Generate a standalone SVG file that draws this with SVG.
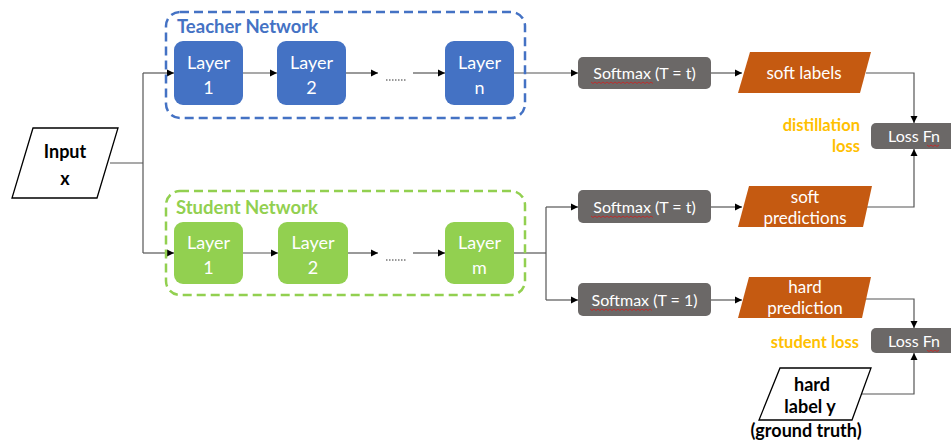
<svg xmlns="http://www.w3.org/2000/svg" width="951" height="442" viewBox="0 0 951 442">
<defs>
<marker id="ah" markerWidth="8" markerHeight="8" refX="7" refY="4" orient="auto" markerUnits="userSpaceOnUse">
<path d="M0,0.5 L7,4 L0,7.5 z" fill="#000"/>
</marker>
<style>
.t{font-family:Lato,"Open Sans","Liberation Sans",sans-serif}
.lay{font-size:18px;fill:#fff;text-anchor:middle}
.sm{font-size:16px;fill:#fff;text-anchor:middle}
.lbl{font-size:17px;fill:#fff;text-anchor:middle}
.blk{font-size:18px;font-weight:bold;fill:#000;text-anchor:middle}
.yl{font-size:16.5px;font-weight:bold;fill:#FFC000;text-anchor:end}
.conn{fill:none;stroke:#555;stroke-width:1.2}
.arr{marker-end:url(#ah)}
.blue{fill:#4472C4}
.green{fill:#92D050}
.gray{fill:#6B6867}
.orange{fill:#C55A11}
.sq{fill:none;stroke:#d02020;stroke-width:0.8}
</style>
</defs>

<g id="connectors">
<path class="conn" d="M110,163 H143"/>
<path class="conn" d="M143,73 V253"/>
<path class="conn arr" d="M143,73 H174"/>
<path class="conn arr" d="M143,253 H174"/>
<path class="conn arr" d="M243,73 H277"/>
<path class="conn arr" d="M346,73 H378"/>
<path class="conn arr" d="M413,73 H445"/>
<path class="conn arr" d="M514,73 H578"/>
<path class="conn arr" d="M243,253 H278"/>
<path class="conn arr" d="M348,253 H378"/>
<path class="conn arr" d="M413,253 H445"/>
<path class="conn" d="M514,253 H546"/>
<path class="conn" d="M546,207 V300"/>
<path class="conn arr" d="M546,207 H578"/>
<path class="conn arr" d="M546,300 H578"/>
<path class="conn arr" d="M711,73 H742"/>
<path class="conn arr" d="M711,207 H742"/>
<path class="conn arr" d="M711,300 H742"/>
<path class="conn arr" d="M866,73 H914 V123"/>
<path class="conn arr" d="M866,207 H914 V149"/>
<path class="conn arr" d="M864,299 H914 V328"/>
<path class="conn arr" d="M862,394 H914 V353"/>
<path d="M386,80 H407" stroke="#333" stroke-width="1" stroke-dasharray="1.5,1.5" fill="none"/>
<path d="M386,260 H407" stroke="#333" stroke-width="1" stroke-dasharray="1.5,1.5" fill="none"/>
</g>

<g id="input">
<polygon points="33,128 118,128 97,198 12,198" fill="#fff" stroke="#000" stroke-width="1.3"/>
<text class="t blk" x="65" y="158">Input</text>
<text class="t blk" x="65" y="185">x</text>
</g>

<g id="teacher-network">
<rect x="166" y="12" width="359" height="106" rx="14" fill="none" stroke="#4472C4" stroke-width="2.5" stroke-dasharray="9,5"/>
<text class="t" x="177" y="33" font-size="18.5" font-weight="bold" fill="#4472C4">Teacher Network</text>
</g>
<g id="t-layer1"><rect class="blue" x="174" y="41" width="69" height="64" rx="9"/><text class="t lay" x="208.5" y="69">Layer</text><text class="t lay" x="208.5" y="94">1</text></g>
<g id="t-layer2"><rect class="blue" x="277" y="41" width="69" height="64" rx="9"/><text class="t lay" x="311.5" y="69">Layer</text><text class="t lay" x="311.5" y="94">2</text></g>
<g id="t-layern"><rect class="blue" x="445" y="41" width="69" height="64" rx="9"/><text class="t lay" x="479.5" y="69">Layer</text><text class="t lay" x="479.5" y="94">n</text></g>

<g id="student-network">
<rect x="166" y="191" width="359" height="104" rx="14" fill="none" stroke="#92D050" stroke-width="2.5" stroke-dasharray="9,5"/>
<text class="t" x="176" y="214" font-size="18.5" font-weight="bold" fill="#92D050">Student Network</text>
</g>
<g id="s-layer1"><rect class="green" x="174" y="222" width="69" height="62" rx="9"/><text class="t lay" x="208.5" y="249">Layer</text><text class="t lay" x="208.5" y="274">1</text></g>
<g id="s-layer2"><rect class="green" x="278" y="222" width="70" height="62" rx="9"/><text class="t lay" x="313" y="249">Layer</text><text class="t lay" x="313" y="274">2</text></g>
<g id="s-layerm"><rect class="green" x="445" y="222" width="69" height="62" rx="9"/><text class="t lay" x="479.5" y="249">Layer</text><text class="t lay" x="479.5" y="274">m</text></g>

<g id="softmax-teacher"><rect class="gray" x="578" y="57" width="133" height="32" rx="5"/><text class="t sm" x="644.5" y="79">Softmax (T = t)</text><path class="sq" d="M591,82 l2,1.5 l2,-1.5 l2,1.5 l2,-1.5 l2,1.5 l2,-1.5 l2,1.5 l2,-1.5 l2,1.5 l2,-1.5 l2,1.5 l2,-1.5 l2,1.5 l2,-1.5 l2,1.5 l2,-1.5 l2,1.5 l2,-1.5 l2,1.5 l2,-1.5 l2,1.5 l2,-1.5 l2,1.5 l2,-1.5 l2,1.5 l2,-1.5 l2,1.5 l2,-1.5 l2,1.5 l2,-1.5 l2,1.5"/></g>
<g id="softmax-student-t"><rect class="gray" x="578" y="190" width="133" height="33" rx="5"/><text class="t sm" x="644.5" y="213">Softmax (T = t)</text><path class="sq" d="M591,216 l2,1.5 l2,-1.5 l2,1.5 l2,-1.5 l2,1.5 l2,-1.5 l2,1.5 l2,-1.5 l2,1.5 l2,-1.5 l2,1.5 l2,-1.5 l2,1.5 l2,-1.5 l2,1.5 l2,-1.5 l2,1.5 l2,-1.5 l2,1.5 l2,-1.5 l2,1.5 l2,-1.5 l2,1.5 l2,-1.5 l2,1.5 l2,-1.5 l2,1.5 l2,-1.5 l2,1.5 l2,-1.5 l2,1.5"/></g>
<g id="softmax-student-1"><rect class="gray" x="578" y="283" width="133" height="33" rx="5"/><text class="t sm" x="644.5" y="306">Softmax (T = 1)</text><path class="sq" d="M590,309 l2,1.5 l2,-1.5 l2,1.5 l2,-1.5 l2,1.5 l2,-1.5 l2,1.5 l2,-1.5 l2,1.5 l2,-1.5 l2,1.5 l2,-1.5 l2,1.5 l2,-1.5 l2,1.5 l2,-1.5 l2,1.5 l2,-1.5 l2,1.5 l2,-1.5 l2,1.5 l2,-1.5 l2,1.5 l2,-1.5 l2,1.5 l2,-1.5 l2,1.5 l2,-1.5 l2,1.5 l2,-1.5 l2,1.5"/></g>

<g id="soft-labels"><polygon class="orange" points="750,52 871,52 860,93 738,93"/><text class="t lbl" x="804" y="79">soft labels</text></g>
<g id="soft-predictions"><polygon class="orange" points="749,186 872,186 863,227 738,227"/><text class="t lbl" x="805" y="203">soft</text><text class="t lbl" x="805" y="224">predictions</text></g>
<g id="hard-prediction"><polygon class="orange" points="749,277 871,277 862,318 738,318"/><text class="t lbl" x="805" y="293">hard</text><text class="t lbl" x="805" y="314">prediction</text></g>

<g id="loss-distillation"><rect class="gray" x="871" y="123" width="90" height="26" rx="5"/><text class="t" x="888" y="142" font-size="16" fill="#fff">Loss Fn</text><path class="sq" d="M927,145 l2,1.5 l2,-1.5 l2,1.5 l2,-1.5 l2,1.5 l2,-1.5"/></g>
<g id="loss-student"><rect class="gray" x="871" y="328" width="90" height="25" rx="5"/><text class="t" x="888" y="347" font-size="16" fill="#fff">Loss Fn</text><path class="sq" d="M927,350 l2,1.5 l2,-1.5 l2,1.5 l2,-1.5 l2,1.5 l2,-1.5"/></g>

<g id="distillation-loss-label"><text class="t yl" x="860" y="131">distillation</text><text class="t yl" x="860" y="152">loss</text></g>
<g id="student-loss-label"><text class="t yl" x="859" y="348">student loss</text></g>

<g id="hard-label"><polygon points="780,368 871,368 852,420 759,420" fill="#fff" stroke="#000" stroke-width="1.3"/><text class="t blk" x="812" y="391" font-size="16.5">hard</text><text class="t blk" x="810" y="413" font-size="16.5">label y</text><text class="t blk" x="806" y="437" font-size="15.5">(ground truth)</text></g>
</svg>
